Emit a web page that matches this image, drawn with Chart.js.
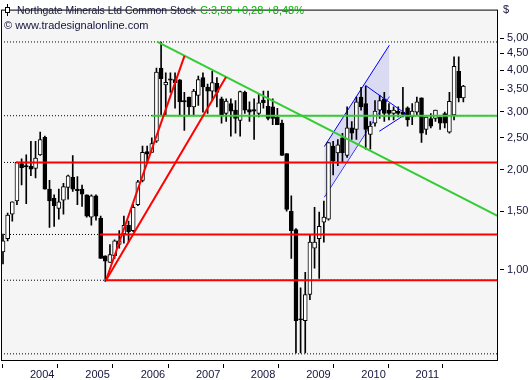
<!DOCTYPE html>
<html>
<head>
<meta charset="utf-8">
<script src="https://cdn.jsdelivr.net/npm/chart.js@4.4.0/dist/chart.umd.min.js"></script>
<style>
  html, body { margin: 0; padding: 0; background: #fff; }
  canvas { display: block; }
</style>
</head>
<body>
<canvas id="chart" width="530" height="380"></canvas>
<script>
// monthly candles, Jul 2003 .. Oct 2011
const opens = [1.13,1.24,1.47,1.61,2.09,2.06,2.05,2.02,2.22,2.51,
  1.75,1.64,1.53,1.62,1.77,1.90,1.75,1.75,1.68,1.44,
  1.67,1.43,1.10,1.05,1.10,1.19,1.28,1.36,1.31,1.57,
  1.86,2.27,2.26,2.44,4.06,3.61,3.77,3.75,3.74,3.24,
  3.32,3.10,3.36,3.80,3.56,3.46,3.65,3.28,2.96,3.17,
  3.03,2.82,3.43,3.04,3.04,2.96,3.25,3.11,3.10,2.89,
  2.77,2.24,1.50,1.32,0.71,0.70,0.84,1.16,1.24,1.39,
  1.42,2.36,2.25,2.50,2.21,2.68,2.65,3.32,3.17,2.56,
  2.77,3.03,3.28,3.03,2.96,3.01,2.99,3.08,2.89,2.99,
  3.30,2.65,2.86,2.86,2.89,2.96,2.60,2.93,3.97,3.30];
const highs = [1.28,1.48,1.60,2.11,2.16,2.22,2.44,2.44,2.60,2.53,
  1.86,1.68,1.75,1.82,1.93,2.21,1.91,1.80,1.68,1.68,
  1.68,1.45,1.10,1.19,1.23,1.31,1.45,1.40,1.57,1.86,
  2.36,2.36,2.50,4.06,4.87,3.93,3.93,3.93,3.75,3.43,
  3.32,3.50,3.84,3.93,3.63,3.97,3.80,3.32,3.28,3.28,
  3.24,3.46,3.46,3.21,3.28,3.39,3.46,3.46,3.28,3.07,
  2.83,2.24,1.67,1.33,0.88,0.98,1.27,1.54,1.49,1.61,
  2.42,2.44,2.47,2.58,3.10,2.80,3.32,3.55,3.59,2.80,
  3.24,3.36,3.43,3.17,3.10,3.10,3.55,3.10,3.17,3.32,
  3.30,2.89,2.96,3.03,2.89,2.99,3.43,4.39,4.39,3.60];
const lows = [1.04,1.22,1.40,1.57,1.80,1.58,1.92,1.89,2.21,1.75,
  1.34,1.35,1.42,1.47,1.63,1.72,1.57,1.55,1.44,1.36,
  1.41,1.08,0.92,1.05,1.08,1.16,1.20,1.21,1.30,1.56,
  1.84,2.09,2.26,2.42,2.93,2.93,3.43,3.07,2.93,2.63,
  2.93,2.93,3.13,2.99,2.96,3.24,3.10,2.77,2.80,2.53,
  2.58,2.53,2.96,2.80,2.47,2.89,3.07,2.83,2.74,2.74,
  2.21,1.50,1.08,0.56,0.56,0.56,0.81,1.01,0.94,1.21,
  1.41,1.93,2.06,2.11,2.18,2.47,2.47,3.03,2.31,2.31,
  2.71,2.86,2.80,2.83,2.83,2.89,2.89,2.71,2.74,2.93,
  2.42,2.56,2.68,2.80,2.65,2.68,2.58,2.83,3.21,3.21];
const closes = [1.22,1.46,1.60,2.11,2.03,2.04,2.01,2.17,2.47,1.75,
  1.61,1.56,1.60,1.78,1.92,1.75,1.73,1.69,1.45,1.67,
  1.45,1.08,1.06,1.11,1.22,1.22,1.36,1.30,1.54,1.84,
  2.26,2.23,2.40,3.95,3.77,3.68,3.73,3.67,3.21,3.21,
  3.10,3.46,3.75,3.56,3.46,3.67,3.43,2.93,3.23,3.01,
  2.86,3.45,3.03,2.99,3.01,3.19,3.19,2.86,2.86,2.74,
  2.21,1.52,1.31,0.70,0.705,0.84,1.21,1.21,1.35,1.44,
  2.42,2.13,2.38,2.25,2.68,2.58,3.21,3.10,2.65,2.71,
  3.01,3.24,2.96,2.96,3.03,2.96,2.94,2.83,3.01,3.21,
  2.58,2.89,2.71,3.03,2.77,2.77,3.22,4.11,3.30,3.58];

const yTicks = [1, 1.5, 2, 2.5, 3, 3.5, 4, 4.5, 5];
const yearLabels = ['2004', '2005', '2006', '2007', '2008', '2009', '2010', '2011'];
const yearPos = [5.8, 17.7, 29.6, 41.5, 53.3, 65.2, 77.05, 88.7];

// drawn lines, as [bar index, price] points
const greenDown = [[33.12, 4.88], [106.45, 1.45]];
const greenFlat = [[32.04, 2.915], [106.45, 2.915]];
const redFlats = [
  [[2.8, 2.106], [106.45, 2.106]],
  [[20.86, 1.276], [106.45, 1.276]],
  [[22.04, 0.928], [106.45, 0.928]]
];
const redFan = [
  [[22.15, 0.928], [39.03, 4.42]],
  [[22.15, 0.928], [47.96, 3.815]]
];
const channelTop = [[69.1, 2.352], [83.08, 4.76]];
const channelBottom = [[69.1, 1.654], [83.08, 3.33]];
const pennant = [
  [[78.06, 3.59], [86.67, 2.95]],
  [[80.92, 2.616], [86.67, 2.95]]
];
const dottedLevels = [4.87, 2.915, 2.106, 1.276, 0.928, 0.556];

const FONT = "'Liberation Sans', Arial, sans-serif";
const TXT = '#14143c';
const xMin = -0.43, xMax = 106.45;

const pts = arr => arr.map(p => ({ x: p[0], y: p[1] }));
const seg = (points, color, width, order, extra) => Object.assign({
  type: 'line', data: pts(points), borderColor: color, borderWidth: width,
  pointRadius: 0, fill: false, tension: 0, order: order
}, extra || {});

const wickData = opens.map((o, i) => ({ x: i, y: [lows[i], highs[i]] }));
const bodyData = opens.map((o, i) => ({ x: i, y: [Math.min(o, closes[i]), Math.max(o, closes[i])] }));
const bodyColors = opens.map((o, i) => closes[i] >= o ? '#ffffff' : '#000000');

const datasets = [
  seg(channelTop, '#0000ff', 1, 5, { fill: '+1', backgroundColor: 'rgba(200,200,240,0.6)' }),
  seg(channelBottom, '#0000ff', 1, 5),
  ...dottedLevels.map(v => seg([[xMin, v], [xMax, v]], '#000000', 1, 4, { borderDash: [1, 2] })),
  { type: 'bar', data: wickData, backgroundColor: '#000', barThickness: 1, grouped: false, order: 3 },
  { type: 'bar', data: bodyData, backgroundColor: bodyColors, borderColor: '#000', borderWidth: 1,
    borderSkipped: false, barThickness: 4, minBarLength: 1, grouped: false, order: 2 },
  ...pennant.map(p => seg(p, '#0000ff', 1, 1)),
  ...redFlats.map(p => seg(p, '#ff0000', 2, 0)),
  ...redFan.map(p => seg(p, '#ff0000', 2, 0)),
  seg(greenFlat, '#33cc33', 2, 0),
  seg(greenDown, '#33cc33', 2, 0)
];

const frame = {
  id: 'frame',
  beforeDraw(chart) {
    const { ctx, chartArea: a } = chart;
    ctx.save();
    ctx.fillStyle = '#fff';
    ctx.fillRect(0, 0, chart.width, chart.height);
    ctx.fillStyle = '#f5f5f5';
    ctx.fillRect(a.left, a.top, a.right - a.left, a.bottom - a.top);
    ctx.restore();
  },
  afterDraw(chart) {
    const { ctx, chartArea: a } = chart;
    ctx.save();
    ctx.strokeStyle = '#000';
    ctx.lineWidth = 1;
    ctx.strokeRect(a.left + 0.5, a.top + 0.5, a.right - a.left - 1, a.bottom - a.top - 1);

    // little candle icon in front of the title
    ctx.beginPath();
    ctx.moveTo(7.5, 4); ctx.lineTo(7.5, 16);
    ctx.stroke();
    ctx.fillStyle = '#fff';
    ctx.fillRect(5.5, 7.5, 4, 5);
    ctx.strokeRect(5.5, 7.5, 4, 5);

    ctx.textBaseline = 'alphabetic';
    ctx.textAlign = 'left';
    ctx.font = '10.4px ' + FONT;
    const title = 'Northgate Minerals Ltd Common Stock ';
    ctx.fillStyle = TXT;
    ctx.fillText(title, 17, 14);
    ctx.font = '11px ' + FONT;
    ctx.fillStyle = '#00b400';
    ctx.fillText('C:3,58 +0,28 +8,48%', 200, 14);
    ctx.fillStyle = TXT;
    ctx.fillText('\u00a9 www.tradesignalonline.com', 4, 29);
    ctx.fillText('$', 503, 13);
    ctx.restore();
  }
};

new Chart(document.getElementById('chart').getContext('2d'), {
  type: 'bar',
  data: { datasets: datasets },
  options: {
    responsive: false,
    animation: false,
    devicePixelRatio: 1,
    layout: { padding: { left: 1, top: 0, right: 0, bottom: 0 } },
    plugins: { legend: { display: false }, tooltip: { enabled: false } },
    scales: {
      x: {
        type: 'linear', position: 'bottom', min: xMin, max: xMax, offset: false,
        border: { display: false },
        grid: { drawOnChartArea: false, drawTicks: true, tickLength: 7, tickColor: '#000', tickBorderDash: [0, 3, 4, 50] },
        afterBuildTicks: s => { s.ticks = yearPos.map(v => ({ value: v })); },
        afterFit: s => { s.height = 19; },
        ticks: {
          callback: (v, i) => yearLabels[i], align: 'start', autoSkip: false, maxRotation: 0,
          padding: 0, color: TXT, font: { family: FONT, size: 11 }
        }
      },
      y: {
        type: 'logarithmic', position: 'right', min: 0.529, max: 6.10,
        border: { display: false },
        grid: { drawOnChartArea: false, drawTicks: true, tickLength: 6, tickColor: '#000', tickBorderDash: [0, 2, 4, 50] },
        afterBuildTicks: s => { s.ticks = yTicks.map(v => ({ value: v })); },
        afterFit: s => { s.width = 32; },
        ticks: {
          callback: v => v.toFixed(2).replace('.', ','), autoSkip: false,
          padding: 3, color: TXT, font: { family: FONT, size: 11 }
        }
      }
    }
  },
  plugins: [frame]
});
</script>
</body>
</html>
